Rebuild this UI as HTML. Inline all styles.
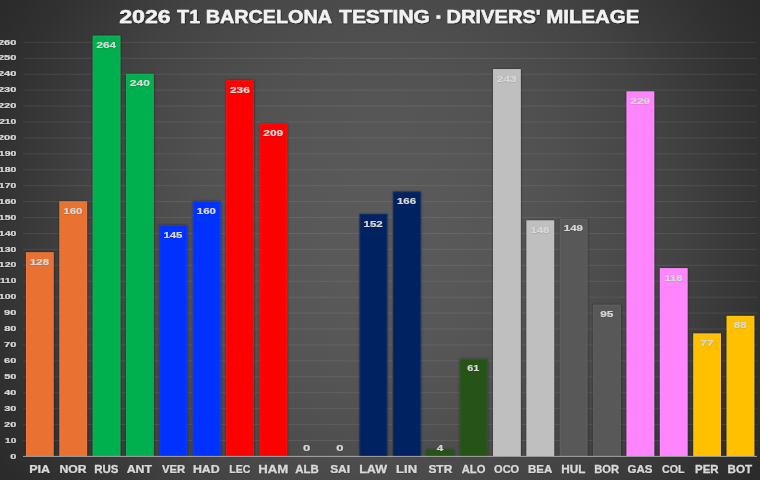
<!DOCTYPE html>
<html><head><meta charset="utf-8"><title>2026 T1 Barcelona Testing - Drivers' Mileage</title>
<style>
html,body{margin:0;padding:0;background:#2a2a2a;}
body{width:760px;height:480px;overflow:hidden;position:relative;font-family:"Liberation Sans",sans-serif;}
#bg{position:absolute;left:0;top:0;width:760px;height:480px;
background:radial-gradient(circle 450px at 380px 240px,
#5a5a5a 0px,#595959 60px,#575757 105px,#545454 150px,#505050 195px,#4a4a4a 245px,#434343 298px,#393939 350px,#313131 395px,#2d2d2d 425px,#2a2a2a 450px);}
svg{position:absolute;left:0;top:0;}
text{font-family:"Liberation Sans",sans-serif;font-weight:bold;}
.t{fill:#f2f2f2;stroke:#f2f2f2;stroke-width:0.45px;stroke-linejoin:round;}
.c{fill:#d9d9d9;stroke:#d9d9d9;stroke-width:0.25px;}
.v{fill:#d8d8d8;stroke:#d8d8d8;stroke-width:0.2px;}
.a{fill:#d9d9d9;stroke:#d9d9d9;stroke-width:0.2px;}
</style></head><body>
<div id="bg"></div>
<svg width="760" height="480" viewBox="0 0 760 480">
<defs>
<filter id="bs" x="-30%" y="-5%" width="160%" height="110%"><feDropShadow dx="0.2" dy="0.1" stdDeviation="0.9" flood-color="#0a1018" flood-opacity="0.55"/></filter>
<filter id="ts" x="-10%" y="-30%" width="120%" height="170%"><feDropShadow dx="0.7" dy="0.8" stdDeviation="0.5" flood-color="#000" flood-opacity="0.6"/></filter>
<filter id="sv" x="-10%" y="-30%" width="120%" height="170%"><feDropShadow dx="0.2" dy="0.3" stdDeviation="0.5" flood-color="#000" flood-opacity="0.28"/></filter>
<filter id="ss" x="-10%" y="-30%" width="120%" height="170%"><feDropShadow dx="0.3" dy="0.4" stdDeviation="0.5" flood-color="#000" flood-opacity="0.4"/></filter>
</defs>
<g fill="#ffffff" fill-opacity="0.085"><rect x="23.0" y="439.98" width="734.0" height="1"/><rect x="23.0" y="424.05" width="734.0" height="1"/><rect x="23.0" y="408.13" width="734.0" height="1"/><rect x="23.0" y="392.21" width="734.0" height="1"/><rect x="23.0" y="376.28" width="734.0" height="1"/><rect x="23.0" y="360.36" width="734.0" height="1"/><rect x="23.0" y="344.44" width="734.0" height="1"/><rect x="23.0" y="328.52" width="734.0" height="1"/><rect x="23.0" y="312.59" width="734.0" height="1"/><rect x="23.0" y="296.67" width="734.0" height="1"/><rect x="23.0" y="280.75" width="734.0" height="1"/><rect x="23.0" y="264.82" width="734.0" height="1"/><rect x="23.0" y="248.90" width="734.0" height="1"/><rect x="23.0" y="232.98" width="734.0" height="1"/><rect x="23.0" y="217.05" width="734.0" height="1"/><rect x="23.0" y="201.13" width="734.0" height="1"/><rect x="23.0" y="185.21" width="734.0" height="1"/><rect x="23.0" y="169.29" width="734.0" height="1"/><rect x="23.0" y="153.36" width="734.0" height="1"/><rect x="23.0" y="137.44" width="734.0" height="1"/><rect x="23.0" y="121.52" width="734.0" height="1"/><rect x="23.0" y="105.59" width="734.0" height="1"/><rect x="23.0" y="89.67" width="734.0" height="1"/><rect x="23.0" y="73.75" width="734.0" height="1"/><rect x="23.0" y="57.82" width="734.0" height="1"/><rect x="23.0" y="41.90" width="734.0" height="1"/></g>
<g filter="url(#bs)"><rect x="25.96" y="252.19" width="27.75" height="203.81" fill="#E97132"/><rect x="59.32" y="201.23" width="27.75" height="254.77" fill="#E97132"/><rect x="92.68" y="35.63" width="27.75" height="420.37" fill="#00B050"/><rect x="126.05" y="73.85" width="27.75" height="382.15" fill="#00B050"/><rect x="159.41" y="225.12" width="27.75" height="230.88" fill="#0433FF"/><rect x="192.78" y="201.23" width="27.75" height="254.77" fill="#0433FF"/><rect x="226.14" y="80.22" width="27.75" height="375.78" fill="#FF0000"/><rect x="259.50" y="123.21" width="27.75" height="332.79" fill="#FF0000"/><rect x="359.59" y="213.97" width="27.75" height="242.03" fill="#002060"/><rect x="392.96" y="191.68" width="27.75" height="264.32" fill="#002060"/><rect x="426.32" y="449.63" width="27.75" height="6.37" fill="#275317"/><rect x="459.68" y="358.87" width="27.75" height="97.13" fill="#275317"/><rect x="493.05" y="69.07" width="27.75" height="386.93" fill="#BFBFBF"/><rect x="526.41" y="220.34" width="27.75" height="235.66" fill="#BFBFBF"/><rect x="559.77" y="218.75" width="27.75" height="237.25" fill="#595959"/><rect x="593.14" y="304.73" width="27.75" height="151.27" fill="#595959"/><rect x="626.50" y="91.36" width="27.75" height="364.64" fill="#FF85FF"/><rect x="659.87" y="268.11" width="27.75" height="187.89" fill="#FF85FF"/><rect x="693.23" y="333.39" width="27.75" height="122.61" fill="#FFC000"/><rect x="726.59" y="315.88" width="27.75" height="140.12" fill="#FFC000"/></g>
<g fill="none" stroke="#ffffff" stroke-opacity="0.05" stroke-width="1"><path d="M26.46 456.00V252.69H53.21V456.00"/><path d="M59.82 456.00V201.73H86.57V456.00"/><path d="M93.18 456.00V36.13H119.93V456.00"/><path d="M126.55 456.00V74.35H153.30V456.00"/><path d="M159.91 456.00V225.62H186.66V456.00"/><path d="M193.28 456.00V201.73H220.03V456.00"/><path d="M226.64 456.00V80.72H253.39V456.00"/><path d="M260.00 456.00V123.71H286.75V456.00"/><path d="M360.09 456.00V214.47H386.84V456.00"/><path d="M393.46 456.00V192.18H420.21V456.00"/><path d="M460.18 456.00V359.37H486.93V456.00"/><path d="M493.55 456.00V69.57H520.30V456.00"/><path d="M526.91 456.00V220.84H553.66V456.00"/><path d="M560.27 456.00V219.25H587.02V456.00"/><path d="M593.64 456.00V305.23H620.39V456.00"/><path d="M627.00 456.00V91.86H653.75V456.00"/><path d="M660.37 456.00V268.61H687.12V456.00"/><path d="M693.73 456.00V333.89H720.48V456.00"/><path d="M727.09 456.00V316.38H753.84V456.00"/></g>
<rect x="23.0" y="455.90" width="734.0" height="0.9" fill="#b4b4b4"/>
<g filter="url(#ts)"><text class="t" transform="translate(119.19 22.70) scale(1.2998 1)" font-size="17.8">2026</text>
<text class="t" transform="translate(177.10 22.70) scale(1.1087 1)" font-size="17.8">T1</text>
<text class="t" transform="translate(205.87 22.70) scale(1.1093 1)" font-size="17.8">BARCELONA</text>
<text class="t" transform="translate(339.09 22.70) scale(1.1770 1)" font-size="17.8">TESTING</text>
<text class="t" transform="translate(446.54 22.70) scale(1.1285 1)" font-size="17.8">DRIVERS'</text>
<text class="t" transform="translate(546.32 22.70) scale(1.1476 1)" font-size="17.8">MILEAGE</text>
<rect class="t" x="436.6" y="15.4" width="3.6" height="3.2"/></g>
<g filter="url(#ss)"><text class="a" transform="translate(10.26 458.50) scale(1.4035 1)" font-size="7.8">0</text>
<text class="a" transform="translate(5.07 442.58) scale(1.2947 1)" font-size="7.8">10</text>
<text class="a" transform="translate(4.12 426.65) scale(1.4087 1)" font-size="7.8">20</text>
<text class="a" transform="translate(4.26 410.73) scale(1.3919 1)" font-size="7.8">30</text>
<text class="a" transform="translate(4.34 394.81) scale(1.3821 1)" font-size="7.8">40</text>
<text class="a" transform="translate(4.14 378.88) scale(1.4053 1)" font-size="7.8">50</text>
<text class="a" transform="translate(4.09 362.96) scale(1.4121 1)" font-size="7.8">60</text>
<text class="a" transform="translate(4.03 347.04) scale(1.4190 1)" font-size="7.8">70</text>
<text class="a" transform="translate(4.14 331.12) scale(1.4053 1)" font-size="7.8">80</text>
<text class="a" transform="translate(4.12 315.19) scale(1.4087 1)" font-size="7.8">90</text>
<text class="a" transform="translate(-1.15 299.27) scale(1.3435 1)" font-size="7.8">100</text>
<text class="a" transform="translate(0.07 283.35) scale(1.2905 1)" font-size="7.8">110</text>
<text class="a" transform="translate(-1.15 267.42) scale(1.3435 1)" font-size="7.8">120</text>
<text class="a" transform="translate(-1.15 251.50) scale(1.3435 1)" font-size="7.8">130</text>
<text class="a" transform="translate(-1.15 235.58) scale(1.3435 1)" font-size="7.8">140</text>
<text class="a" transform="translate(-1.15 219.65) scale(1.3435 1)" font-size="7.8">150</text>
<text class="a" transform="translate(-1.15 203.73) scale(1.3435 1)" font-size="7.8">160</text>
<text class="a" transform="translate(-1.15 187.81) scale(1.3435 1)" font-size="7.8">170</text>
<text class="a" transform="translate(-1.15 171.89) scale(1.3435 1)" font-size="7.8">180</text>
<text class="a" transform="translate(-1.15 155.96) scale(1.3435 1)" font-size="7.8">190</text>
<text class="a" transform="translate(-2.09 140.04) scale(1.4169 1)" font-size="7.8">200</text>
<text class="a" transform="translate(-0.86 124.12) scale(1.3203 1)" font-size="7.8">210</text>
<text class="a" transform="translate(-2.09 108.19) scale(1.4169 1)" font-size="7.8">220</text>
<text class="a" transform="translate(-2.09 92.27) scale(1.4169 1)" font-size="7.8">230</text>
<text class="a" transform="translate(-2.09 76.35) scale(1.4169 1)" font-size="7.8">240</text>
<text class="a" transform="translate(-2.09 60.42) scale(1.4169 1)" font-size="7.8">250</text>
<text class="a" transform="translate(-2.09 44.50) scale(1.4169 1)" font-size="7.8">260</text>
<text class="c" transform="translate(29.15 472.85) scale(1.1523 1)" font-size="10.9">PIA</text>
<text class="c" transform="translate(59.43 472.85) scale(1.1186 1)" font-size="10.9">NOR</text>
<text class="c" transform="translate(94.23 472.85) scale(1.0524 1)" font-size="10.9">RUS</text>
<text class="c" transform="translate(126.69 472.85) scale(1.1354 1)" font-size="10.9">ANT</text>
<text class="c" transform="translate(161.91 472.85) scale(1.0407 1)" font-size="10.9">VER</text>
<text class="c" transform="translate(192.91 472.85) scale(1.1370 1)" font-size="10.9">HAD</text>
<text class="c" transform="translate(229.29 472.85) scale(0.9632 1)" font-size="10.9">LEC</text>
<text class="c" transform="translate(258.36 472.85) scale(1.2097 1)" font-size="10.9">HAM</text>
<text class="c" transform="translate(295.21 472.85) scale(1.0515 1)" font-size="10.9">ALB</text>
<text class="c" transform="translate(330.14 472.85) scale(1.0957 1)" font-size="10.9">SAI</text>
<text class="c" transform="translate(359.15 472.85) scale(1.1508 1)" font-size="10.9">LAW</text>
<text class="c" transform="translate(396.12 472.85) scale(1.1973 1)" font-size="10.9">LIN</text>
<text class="c" transform="translate(428.39 472.85) scale(1.0953 1)" font-size="10.9">STR</text>
<text class="c" transform="translate(461.72 472.85) scale(1.0318 1)" font-size="10.9">ALO</text>
<text class="c" transform="translate(494.06 472.85) scale(1.0136 1)" font-size="10.9">OCO</text>
<text class="c" transform="translate(527.97 472.85) scale(1.0573 1)" font-size="10.9">BEA</text>
<text class="c" transform="translate(561.21 472.85) scale(1.0780 1)" font-size="10.9">HUL</text>
<text class="c" transform="translate(594.25 472.85) scale(1.0218 1)" font-size="10.9">BOR</text>
<text class="c" transform="translate(627.54 472.85) scale(1.0548 1)" font-size="10.9">GAS</text>
<text class="c" transform="translate(662.07 472.85) scale(0.9781 1)" font-size="10.9">COL</text>
<text class="c" transform="translate(695.02 472.85) scale(1.0538 1)" font-size="10.9">PER</text>
<text class="c" transform="translate(727.61 472.85) scale(1.0698 1)" font-size="10.9">BOT</text></g>
<g filter="url(#sv)"><text class="v" transform="translate(29.97 264.74) scale(1.2030 1)" font-size="9.5">128</text>
<text class="v" transform="translate(63.33 213.78) scale(1.2107 1)" font-size="9.5">160</text>
<text class="v" transform="translate(96.47 48.18) scale(1.2321 1)" font-size="9.5">264</text>
<text class="v" transform="translate(129.83 86.40) scale(1.2592 1)" font-size="9.5">240</text>
<text class="v" transform="translate(163.42 237.67) scale(1.2011 1)" font-size="9.5">145</text>
<text class="v" transform="translate(196.78 213.78) scale(1.2107 1)" font-size="9.5">160</text>
<text class="v" transform="translate(229.92 92.77) scale(1.2553 1)" font-size="9.5">236</text>
<text class="v" transform="translate(263.28 135.76) scale(1.2553 1)" font-size="9.5">209</text>
<text class="v" transform="translate(302.97 450.55) scale(1.3740 1)" font-size="9.5">0</text>
<text class="v" transform="translate(336.33 450.55) scale(1.3740 1)" font-size="9.5">0</text>
<text class="v" transform="translate(363.60 226.52) scale(1.2107 1)" font-size="9.5">152</text>
<text class="v" transform="translate(396.97 204.23) scale(1.2068 1)" font-size="9.5">166</text>
<text class="v" transform="translate(436.77 450.55) scale(1.2199 1)" font-size="9.5">4</text>
<text class="v" transform="translate(467.33 371.42) scale(1.1406 1)" font-size="9.5">61</text>
<text class="v" transform="translate(496.83 81.62) scale(1.2553 1)" font-size="9.5">243</text>
<text class="v" transform="translate(530.42 232.89) scale(1.2030 1)" font-size="9.5">148</text>
<text class="v" transform="translate(563.78 231.30) scale(1.2068 1)" font-size="9.5">149</text>
<text class="v" transform="translate(600.25 317.28) scale(1.2431 1)" font-size="9.5">95</text>
<text class="v" transform="translate(630.28 103.91) scale(1.2553 1)" font-size="9.5">229</text>
<text class="v" transform="translate(664.42 280.66) scale(1.1738 1)" font-size="9.5">118</text>
<text class="v" transform="translate(700.24 345.94) scale(1.2734 1)" font-size="9.5">77</text>
<text class="v" transform="translate(733.73 328.43) scale(1.2431 1)" font-size="9.5">88</text></g>
</svg></body></html>
